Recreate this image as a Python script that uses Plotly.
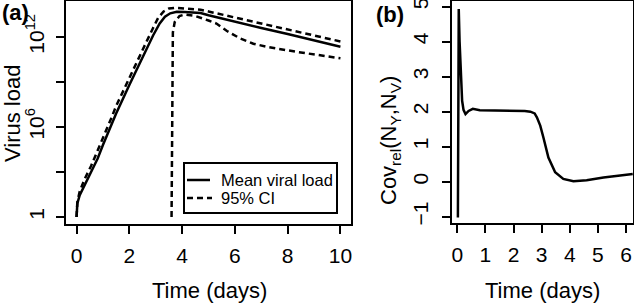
import plotly.graph_objects as go

# ---------------- data: panel (a) ----------------
t_mean = [0, 0.03, 0.12, 0.3, 0.55, 0.8, 1.0, 1.32, 1.5, 2.0, 2.27, 2.6, 2.9, 3.15,
          3.35, 3.55, 3.8, 4.1, 4.7, 5.0, 6.0, 7.0, 8.0, 9.0, 10.0]
log_mean = [0, 0.9, 1.45, 2.1, 2.9, 3.9, 4.8, 6.1, 6.9, 8.8, 9.8, 11.0, 12.1, 12.9,
            13.35, 13.58, 13.68, 13.66, 13.6, 13.45, 13.0, 12.6, 12.2, 11.8, 11.35]

t_upper = [0, 0.03, 0.12, 0.3, 0.55, 0.8, 1.0, 1.32, 1.5, 2.0, 2.27, 2.6, 2.9, 3.1,
           3.3, 3.5, 3.75, 4.0, 4.7, 5.0, 6.0, 7.0, 8.0, 9.0, 10.0]
log_upper = [0, 1.0, 1.7, 2.5, 3.4, 4.4, 5.3, 6.6, 7.4, 9.3, 10.3, 11.5, 12.6, 13.3,
             13.7, 13.9, 13.95, 13.92, 13.82, 13.7, 13.3, 12.9, 12.5, 12.1, 11.7]

t_lower = [3.6, 3.61, 3.62, 3.65, 3.72, 3.9, 4.1, 4.5, 5.0, 5.3, 5.7, 6.2, 6.7, 7.2,
           8.3, 9.0, 10.0]
log_lower = [0, 5.0, 10.0, 12.3, 13.0, 13.4, 13.5, 13.4, 13.1, 12.9, 12.4, 11.9, 11.55,
             11.35, 11.02, 10.85, 10.58]

ya_tickvals_log = [0, 6, 12]
ya_ticktext = ["1", "10<sup>6</sup>", "10<sup>12</sup>"]
ya_minor_log = [3, 9]
xa_tickvals = [0, 2, 4, 6, 8, 10]
legend_labels = ["Mean viral load", "95% CI"]

# ---------------- data: panel (b) ----------------
t_cov = [0.02, 0.05, 0.08, 0.11, 0.17, 0.22, 0.29, 0.4, 0.55, 0.8, 1.5, 2.0, 2.4, 2.6,
         2.75, 2.83, 2.95, 3.06, 3.24, 3.48, 3.77, 4.13, 4.6, 5.2, 5.7, 6.24]
cov = [-1.02, 4.93, 4.0, 3.27, 2.31, 2.05, 1.93, 2.02, 2.08, 2.04, 2.03, 2.03, 2.02, 2.0,
       1.95, 1.84, 1.6, 1.27, 0.69, 0.27, 0.08, 0.01, 0.04, 0.12, 0.17, 0.22]
xb_tickvals = [0, 1, 2, 3, 4, 5, 6]
yb_tickvals = [-1, 0, 1, 2, 3, 4, 5]

W, H = 634, 303
FONT = "Liberation Sans, Arial, Helvetica, sans-serif"
TICK_SIZE = 21
LAB_SIZE = 22

def px_x(p):
    return p / W

def px_y(p):
    return 1 - p / H

fig = go.Figure()
fig.add_trace(go.Scatter(x=t_mean, y=[10 ** v for v in log_mean], mode="lines",
                         line=dict(color="black", width=2.5), name=legend_labels[0],
                         showlegend=False, xaxis="x", yaxis="y"))
fig.add_trace(go.Scatter(x=t_upper, y=[10 ** v for v in log_upper], mode="lines",
                         line=dict(color="black", width=2.5, dash="6px,4px"), name=legend_labels[1],
                         showlegend=False, xaxis="x", yaxis="y"))
fig.add_trace(go.Scatter(x=t_lower, y=[10 ** v for v in log_lower], mode="lines",
                         line=dict(color="black", width=2.5, dash="6px,4px"), name=legend_labels[1],
                         showlegend=False, xaxis="x", yaxis="y"))
fig.add_trace(go.Scatter(x=t_cov, y=cov, mode="lines",
                         line=dict(color="black", width=2.5), showlegend=False,
                         xaxis="x2", yaxis="y2"))

axis_common = dict(showline=True, linecolor="black", linewidth=2, mirror=True,
                   ticks="outside", ticklen=8, tickwidth=2, tickcolor="black",
                   showgrid=False, zeroline=False, automargin=False,
                   ticklabeloverflow="allow",
                   tickfont=dict(family=FONT, size=TICK_SIZE, color="black"))

fig.update_layout(
    width=W, height=H,
    margin=dict(l=0, r=0, t=0, b=0),
    paper_bgcolor="white", plot_bgcolor="white",
    font=dict(family=FONT, color="black"),
    showlegend=False,
    xaxis=dict(domain=[px_x(66), px_x(351)], range=[-0.4, 10.4], anchor="y",
               tickvals=xa_tickvals, ticklabelstandoff=4, **axis_common),
    yaxis=dict(domain=[px_y(224), px_y(1)], type="log", range=[-0.47, 14.4], anchor="x",
               tickvals=[10 ** v for v in ya_tickvals_log], ticktext=ya_ticktext,
               minor=dict(tickmode="array", tickvals=[10 ** v for v in ya_minor_log],
                          ticks="outside", ticklen=8, tickwidth=2, tickcolor="black",
                          showgrid=False),
               tickangle=-90, ticklabelstandoff=4, **axis_common),
    xaxis2=dict(domain=[px_x(452), px_x(633)], range=[-0.19, 6.25], anchor="y2",
                tickvals=xb_tickvals, ticklabelstandoff=4, **axis_common),
    yaxis2=dict(domain=[px_y(223), px_y(1)], range=[-1.18, 5.16], anchor="x2",
                tickvals=yb_tickvals, tickangle=-90, ticklabelstandoff=6, **axis_common),
)

# legend box (drawn manually to match R's compact legend)
shapes = [
    dict(type="rect", xref="paper", yref="paper", x0=px_x(184), x1=px_x(337),
         y0=px_y(213), y1=px_y(163), line=dict(color="black", width=2),
         fillcolor="white", layer="above"),
    dict(type="line", xref="paper", yref="paper", x0=px_x(187), x1=px_x(210),
         y0=px_y(180), y1=px_y(180), line=dict(color="black", width=2.5), layer="above"),
    dict(type="line", xref="paper", yref="paper", x0=px_x(187), x1=px_x(212),
         y0=px_y(198), y1=px_y(198), line=dict(color="black", width=2.5, dash="6px,4px"),
         layer="above"),
]
fig.update_layout(shapes=shapes)

ann = [
    dict(text="<b>(a)</b>", x=px_x(15), y=px_y(12), font=dict(size=LAB_SIZE)),
    dict(text="<b>(b)</b>", x=px_x(390), y=px_y(14), font=dict(size=LAB_SIZE)),
    dict(text="Time (days)", x=px_x(209), y=px_y(290), font=dict(size=LAB_SIZE)),
    dict(text="Time (days)", x=px_x(542), y=px_y(290), font=dict(size=LAB_SIZE)),
    dict(text="Virus load", x=px_x(12), y=px_y(114), textangle=-90, font=dict(size=LAB_SIZE)),
    dict(text="Cov<sub>rel</sub>(N<sub>Y</sub>,N<sub>V</sub>)", x=px_x(390), y=px_y(140),
         textangle=-90, font=dict(size=LAB_SIZE)),
    dict(text=legend_labels[0], x=px_x(219), y=px_y(180), xanchor="left",
         font=dict(size=16.5)),
    dict(text=legend_labels[1], x=px_x(219), y=px_y(198), xanchor="left",
         font=dict(size=16.5)),
]
for a in ann:
    a.setdefault("xanchor", "center")
    a.update(xref="paper", yref="paper", showarrow=False, yanchor="middle")
    a["font"].update(family=FONT, color="black")
fig.update_layout(annotations=ann)

fig.write_html("out.html",
               config={"displayModeBar": False},
               post_script="document.body.style.margin='0';document.body.style.overflow='hidden';")
